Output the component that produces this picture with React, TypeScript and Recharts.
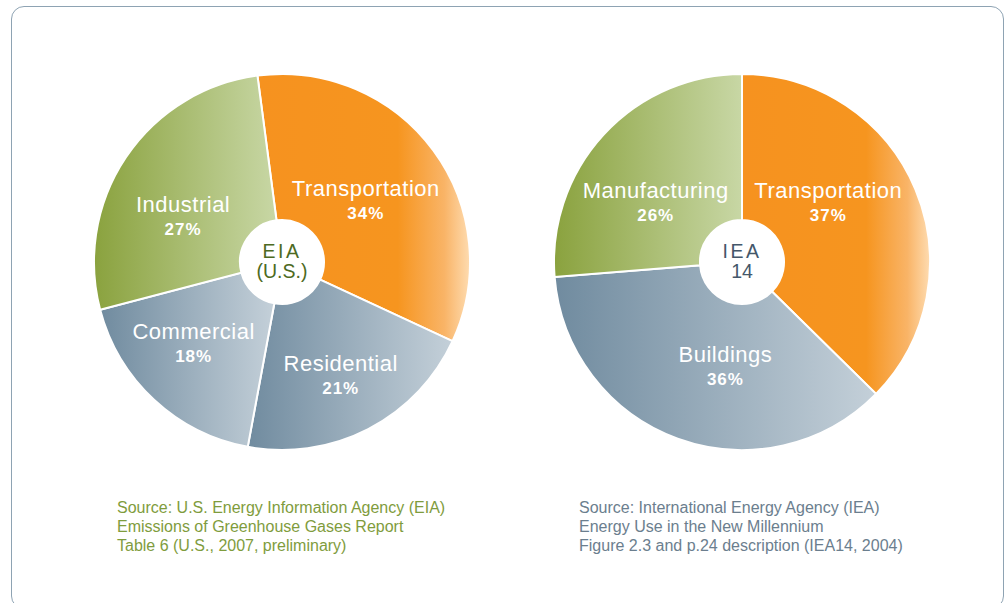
import React from 'react';
import { PieChart, Pie, Cell } from 'recharts';

// ---- data ----
const eiaSectors = ['Transportation', 'Residential', 'Commercial', 'Industrial'];
const eiaShares = [34, 21, 18, 27];
const ieaSectors = ['Transportation', 'Buildings', 'Manufacturing'];
const ieaShares = [37, 36, 26];

const eiaCenterLines = ['EIA', '(U.S.)'];
const ieaCenterLines = ['IEA', '14'];

const eiaSourceLines = [
  'Source: U.S. Energy Information Agency (EIA)',
  'Emissions of Greenhouse Gases Report',
  'Table 6 (U.S., 2007, preliminary)',
];
const ieaSourceLines = [
  'Source: International Energy Agency (IEA)',
  'Energy Use in the New Millennium',
  'Figure 2.3 and p.24 description (IEA14, 2004)',
];

const eiaData = eiaSectors.map((name, i) => ({ name, value: eiaShares[i] }));
const ieaData = ieaSectors.map((name, i) => ({ name, value: ieaShares[i] }));

// label placement tweaks (polar: degrees added to midAngle, radius in px)
const eiaLabelPlacement: Record<string, { da: number; r: number }> = {
  Transportation: { da: 0, r: 104 },
  Residential: { da: 0, r: 128 },
  Commercial: { da: -4.5, r: 120 },
  Industrial: { da: 9, r: 109 },
};
const ieaLabelPlacement: Record<string, { da: number; r: number }> = {
  Transportation: { da: 12, r: 105 },
  Buildings: { da: 11, r: 106 },
  Manufacturing: { da: 8, r: 105 },
};

const gradFor = (name: string) => {
  if (name === 'Transportation') return 'url(#gradOrange)';
  if (name === 'Industrial' || name === 'Manufacturing') return 'url(#gradGreen)';
  return 'url(#gradBlue)';
};

const FONT = '"Liberation Sans", Arial, Helvetica, sans-serif';
const RAD = Math.PI / 180;

const makeLabel = (placement: Record<string, { da: number; r: number }>) => (props: any) => {
  const { cx, cy, midAngle, outerRadius, name, value } = props;
  const p = placement[name] || { da: 0, r: outerRadius * 0.58 };
  const a = midAngle + p.da;
  const x = cx + p.r * Math.cos(-a * RAD);
  const y = cy + p.r * Math.sin(-a * RAD);
  return (
    <g>
      <text
        x={x}
        y={y - 12}
        textAnchor="middle"
        dominantBaseline="central"
        fill="#ffffff"
        style={{ fontFamily: FONT, fontSize: 22, letterSpacing: 0.5 }}
      >
        {name}
      </text>
      <text
        x={x}
        y={y + 13}
        textAnchor="middle"
        dominantBaseline="central"
        fill="#ffffff"
        style={{ fontFamily: FONT, fontSize: 17, fontWeight: 700, letterSpacing: 1 }}
      >
        {value}%
      </text>
    </g>
  );
};

const eiaLabel = makeLabel(eiaLabelPlacement);
const ieaLabel = makeLabel(ieaLabelPlacement);

const CenterText = ({ left, top, lines, color }: { left: number; top: number; lines: string[]; color: string }) => (
  <div
    style={{
      position: 'absolute',
      left: left - 50,
      top: top - 21,
      width: 100,
      textAlign: 'center',
      fontFamily: FONT,
      fontSize: 19.5,
      lineHeight: '20px',
      color,
    }}
  >
    {lines.map((l, i) => (
      <div key={i} style={{ letterSpacing: i === 0 ? 2.5 : 0 }}>
        {l}
      </div>
    ))}
  </div>
);

const SourceText = ({ left, top, lines, color }: { left: number; top: number; lines: string[]; color: string }) => (
  <div
    style={{
      position: 'absolute',
      left,
      top,
      fontFamily: FONT,
      fontSize: 16,
      lineHeight: '19px',
      color,
      whiteSpace: 'nowrap',
    }}
  >
    {lines.map((l, i) => (
      <div key={i}>{l}</div>
    ))}
  </div>
);

export default function App() {
  return (
    <div
      style={{
        position: 'absolute',
        left: 0,
        top: 0,
        width: 1008,
        height: 603,
        background: '#ffffff',
        overflow: 'hidden',
      }}
    >
      <div
        style={{
          position: 'absolute',
          left: 11,
          top: 6,
          width: 993,
          height: 603,
          border: '1.5px solid #8ea3b3',
          borderRadius: 13,
          boxSizing: 'border-box',
        }}
      />
      <div style={{ position: 'absolute', left: 0, top: 0 }}>
        <PieChart width={1008} height={603} margin={{ top: 0, right: 0, bottom: 0, left: 0 }}>
          <defs>
            <linearGradient id="gradGreen" x1="0" y1="0" x2="1" y2="0">
              <stop offset="0" stopColor="#8aa23e" />
              <stop offset="1" stopColor="#c8d7a5" />
            </linearGradient>
            <linearGradient id="gradOrange" x1="0" y1="0" x2="1" y2="0">
              <stop offset="0" stopColor="#f6921f" />
              <stop offset="0.66" stopColor="#f6951f" />
              <stop offset="0.88" stopColor="#f9b467" />
              <stop offset="1" stopColor="#fedcb1" />
            </linearGradient>
            <linearGradient id="gradBlue" x1="0" y1="0" x2="1" y2="0">
              <stop offset="0" stopColor="#708b9f" />
              <stop offset="1" stopColor="#c4d0d9" />
            </linearGradient>
          </defs>
          <Pie
            data={eiaData}
            dataKey="value"
            nameKey="name"
            cx={282}
            cy={262}
            innerRadius={42}
            outerRadius={188}
            startAngle={97.5}
            endAngle={-262.5}
            stroke="#ffffff"
            strokeWidth={2}
            label={eiaLabel}
            labelLine={false}
            isAnimationActive={false}
          >
            {eiaData.map((d) => (
              <Cell key={d.name} fill={gradFor(d.name)} />
            ))}
          </Pie>
          <Pie
            data={ieaData}
            dataKey="value"
            nameKey="name"
            cx={742}
            cy={262}
            innerRadius={42}
            outerRadius={188}
            startAngle={90}
            endAngle={-270}
            stroke="#ffffff"
            strokeWidth={2}
            label={ieaLabel}
            labelLine={false}
            isAnimationActive={false}
          >
            {ieaData.map((d) => (
              <Cell key={d.name} fill={gradFor(d.name)} />
            ))}
          </Pie>
        </PieChart>
      </div>
      <CenterText left={282} top={262} lines={eiaCenterLines} color="#4d6a22" />
      <CenterText left={742} top={262} lines={ieaCenterLines} color="#44576a" />
      <SourceText left={117} top={498} lines={eiaSourceLines} color="#7f9c3d" />
      <SourceText left={579} top={498} lines={ieaSourceLines} color="#6b7e8e" />
    </div>
  );
}
